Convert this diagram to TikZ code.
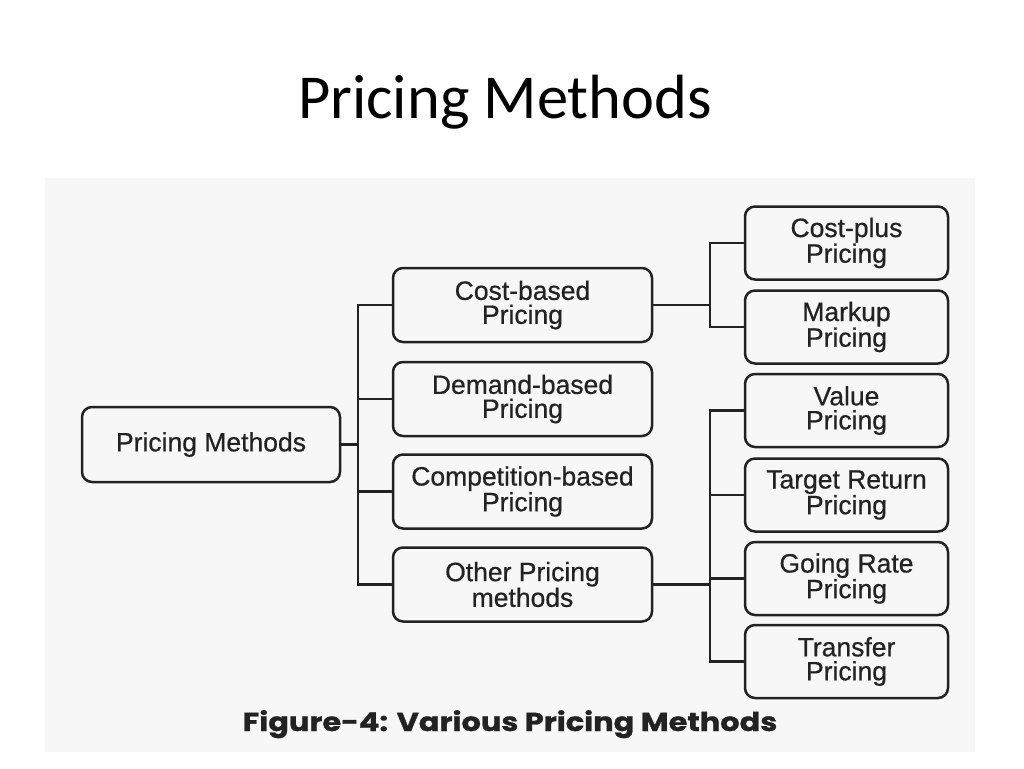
\documentclass[tikz,border=0pt]{standalone}
\usepackage{fontspec}
\setmainfont{Carlito}
\newfontfamily\boxfont{Liberation Sans}[FakeBold=0.6]
\newfontfamily\capfont{Poppins}[FakeStretch=1.17, FakeBold=1]
\definecolor{ink}{HTML}{222222}
\definecolor{scan}{HTML}{F7F7F7}
\begin{document}
\begin{tikzpicture}[x=1pt,y=-1pt,
  box/.style={draw=ink, line width=2.5pt, rounded corners=10pt, align=center,
    text=ink, font=\boxfont\fontsize{26.5}{24}\selectfont, inner sep=0pt},
  mid/.style={box, minimum width=259pt, minimum height=74pt},
  leaf/.style={box, minimum width=203pt, minimum height=73pt},
  conn/.style={draw=ink, line width=2.5pt}]
\useasboundingbox (0,0) rectangle (1024,768);
\fill[white] (0,0) rectangle (1024,768);
\fill[scan] (45,178) rectangle (975,752);
% title
\node[font=\fontsize{62.5}{70}\selectfont, anchor=base] (title) at (505,118) {Pricing Methods};
% nodes
\node[box, minimum width=258pt, minimum height=75pt] (root) at (211,444.5) {Pricing Methods};
\node[mid] (cb) at (522.5,305) {Cost-based\\Pricing};
\node[mid] (db) at (522.5,399) {Demand-based\\Pricing};
\node[mid] (comp) at (522.5,491.5) {Competition-based\\Pricing};
\node[mid] (ob) at (522.5,584.5) {Other Pricing\\methods};
\node[leaf] (cp) at (846.5,243) {Cost-plus\\Pricing};
\node[leaf] (mk) at (846.5,327) {Markup\\Pricing};
\node[leaf] (val) at (846.5,410.5) {Value\\Pricing};
\node[leaf] (tgt) at (846.5,495) {Target Return\\Pricing};
\node[leaf] (gr) at (846.5,578.5) {Going Rate\\Pricing};
\node[leaf] (tr) at (846.5,661.5) {Transfer\\Pricing};
% junctions
\coordinate (j1) at (358,0);
\coordinate (j2) at (710,0);
% connectors
\draw[conn] (root.east) -- (root.east -| j1);
\draw[conn] (cb.west) -- (cb.west -| j1) -- (ob.west -| j1) -- (ob.west);
\draw[conn] (db.west) -- (db.west -| j1);
\draw[conn] (comp.west) -- (comp.west -| j1);
\draw[conn] (cb.east) -- (cb.east -| j2);
\draw[conn] (cp.west) -- (cp.west -| j2) -- (mk.west -| j2) -- (mk.west);
\draw[conn] (ob.east) -- (ob.east -| j2);
\draw[conn] (val.west) -- (val.west -| j2) -- (tr.west -| j2) -- (tr.west);
\draw[conn] (tgt.west) -- (tgt.west -| j2);
\draw[conn] (gr.west) -- (gr.west -| j2);
% caption
\node[font=\capfont\bfseries\fontsize{26}{28}\selectfont, text=ink, anchor=base] (cap) at (510,731) {Figure-4: Various Pricing Methods};
\end{tikzpicture}
\end{document}
